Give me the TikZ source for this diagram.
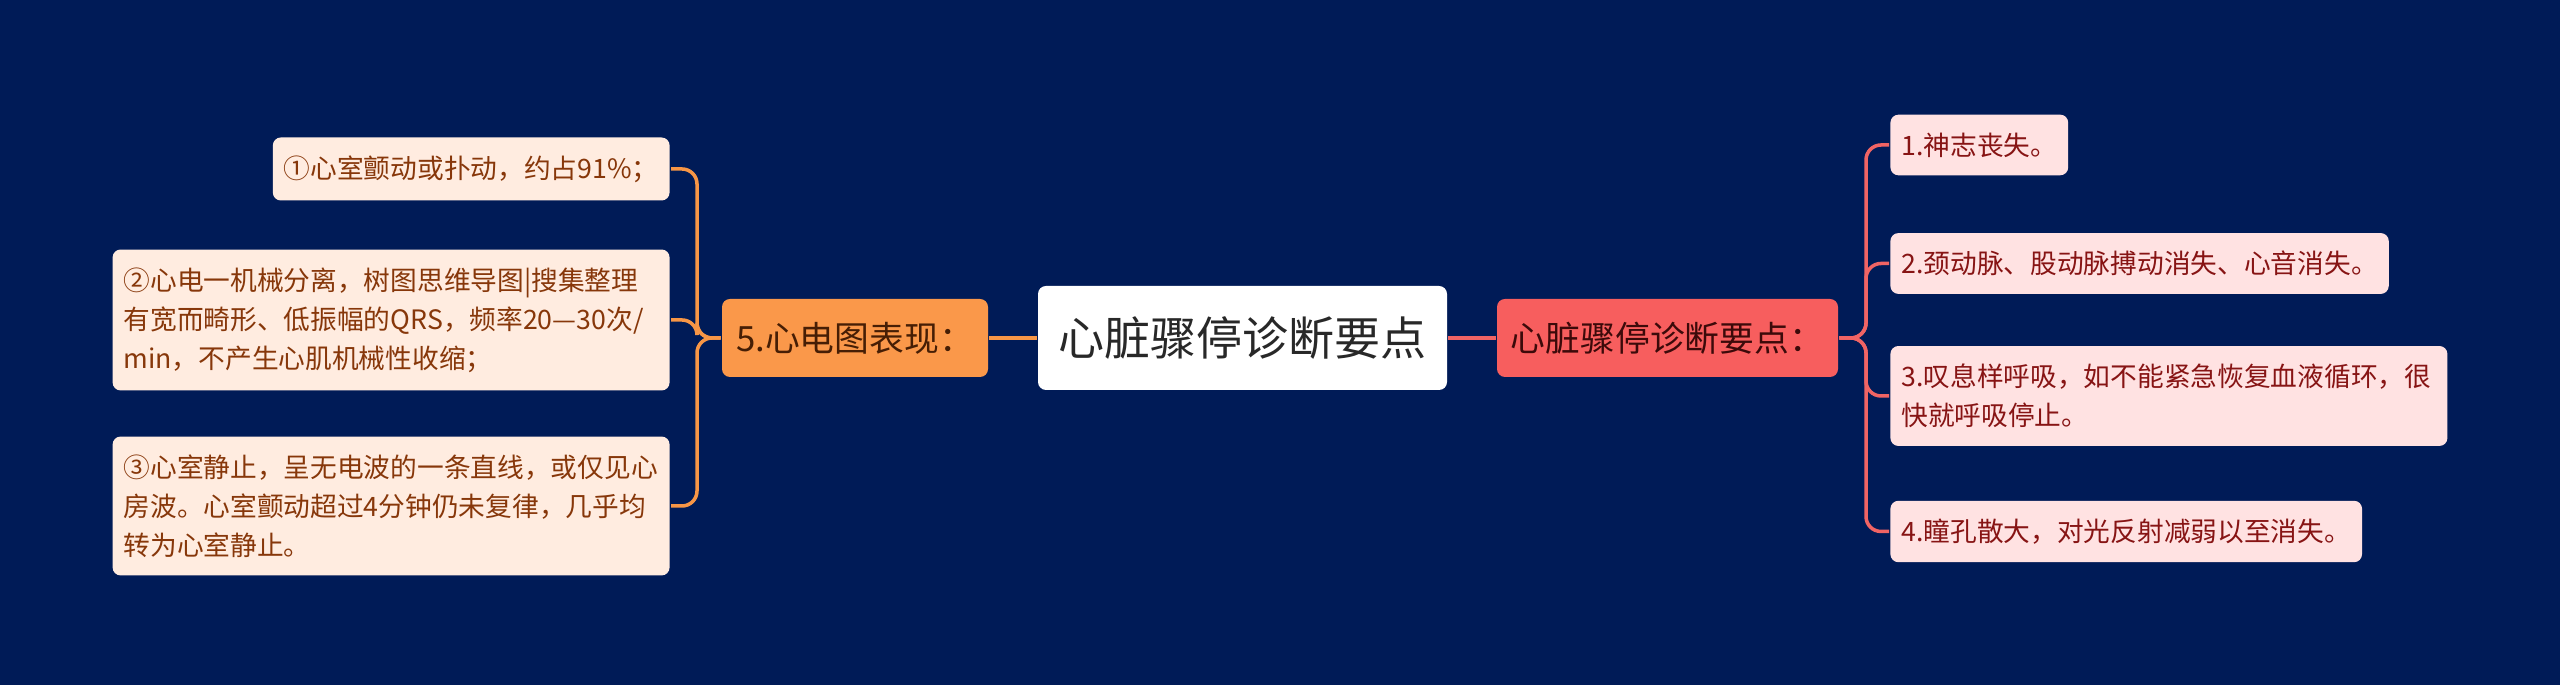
\documentclass[tikz,border=0pt]{standalone}
\usepackage{fontspec}
\setmainfont{Noto Sans CJK SC}
\usepackage{xcolor}
\usepackage{tikz}
\usetikzlibrary{positioning, calc}

\definecolor{bgnavy}{RGB}{0,27,87}
\definecolor{rootink}{RGB}{40,40,40}
\definecolor{redfill}{RGB}{247,94,94}
\definecolor{redink}{RGB}{60,10,10}
\definecolor{redline}{RGB}{240,100,100}
\definecolor{pinkfill}{RGB}{255,226,226}
\definecolor{pinkink}{RGB}{135,20,20}
\definecolor{orangefill}{RGB}{250,152,74}
\definecolor{orangeink}{RGB}{70,30,5}
\definecolor{orangeline}{RGB}{247,150,70}
\definecolor{peachfill}{RGB}{255,236,224}
\definecolor{peachink}{RGB}{135,55,10}

\begin{document}
\begin{tikzpicture}[thick,
    rootbox/.style={fill=white, text=rootink, rounded corners=0.08cm,
        minimum width=4.09cm, minimum height=1.04cm, font=\fontsize{13.1}{15}\selectfont},
    rmainbox/.style={fill=redfill, text=redink, rounded corners=0.08cm,
        minimum width=3.41cm, minimum height=0.78cm, font=\fontsize{9.9}{12}\selectfont},
    lmainbox/.style={fill=orangefill, text=orangeink, rounded corners=0.08cm,
        minimum width=2.66cm, minimum height=0.78cm, font=\fontsize{9.9}{12}\selectfont},
    rleaf/.style={fill=pinkfill, text=pinkink, rounded corners=0.08cm, align=left,
        inner xsep=0.11cm, inner ysep=0.18cm, font=\fontsize{7.6}{11.1}\selectfont},
    lleaf/.style={fill=peachfill, text=peachink, rounded corners=0.08cm, align=left,
        inner xsep=0.11cm, inner ysep=0.18cm, font=\fontsize{7.6}{11.1}\selectfont},
    rline/.style={draw=redline, line width=1pt, rounded corners=0.15cm},
    lline/.style={draw=orangeline, line width=1pt, rounded corners=0.15cm}]

    % --- Background ---
    \fill[bgnavy] (0,0) rectangle (25.6,6.85);
    \useasboundingbox (0,0) rectangle (25.6,6.85);

    % --- Centre and main branches ---
    \node[rootbox] (root) at (12.425, 3.47) {心脏骤停诊断要点};
    \node[rmainbox] (rmain) at (16.675, 3.47) {心脏骤停诊断要点：};
    \node[lmainbox] (lmain) at (8.55, 3.47) {5.心电图表现：};

    % --- Right leaves ---
    \node[rleaf, anchor=west] (r1) at (18.89, 5.40) {1.神志丧失。};
    \node[rleaf, anchor=west] (r2) at (18.89, 4.215) {2.颈动脉、股动脉搏动消失、心音消失。};
    \node[rleaf, anchor=west, text width=5.35cm] (r3) at (18.89, 2.89) {3.叹息样呼吸，如不能紧急恢复血液循环，很\\快就呼吸停止。};
    \node[rleaf, anchor=west] (r4) at (18.89, 1.535) {4.瞳孔散大，对光反射减弱以至消失。};

    % --- Left leaves ---
    \node[lleaf, anchor=east] (l1) at (6.71, 5.16) {①心室颤动或扑动，约占91\%；};
    \node[lleaf, anchor=east, text width=5.35cm] (l2) at (6.71, 3.65) {②心电一机械分离，树图思维导图|搜集整理\\有宽而畸形、低振幅的QRS，频率20—30次/\\min，不产生心肌机械性收缩；};
    \node[lleaf, anchor=east, text width=5.35cm] (l3) at (6.71, 1.79) {③心室静止，呈无电波的一条直线，或仅见心\\房波。心室颤动超过4分钟仍未复律，几乎均\\转为心室静止。};

    % --- Connectors ---
    \coordinate (rtrunk) at (18.66, 0);
    \coordinate (ltrunk) at (6.97, 0);
    \draw[rline] (root.east) -- (rmain.west);
    \draw[lline] (root.west) -- (lmain.east);
    \foreach \leaf in {r1, r2, r3, r4}
        \draw[rline] (rmain.east) -- (rmain.east -| rtrunk) |- (\leaf.west);
    \foreach \leaf in {l1, l2, l3}
        \draw[lline] (lmain.west) -- (lmain.west -| ltrunk) |- (\leaf.east);

\end{tikzpicture}
\end{document}
